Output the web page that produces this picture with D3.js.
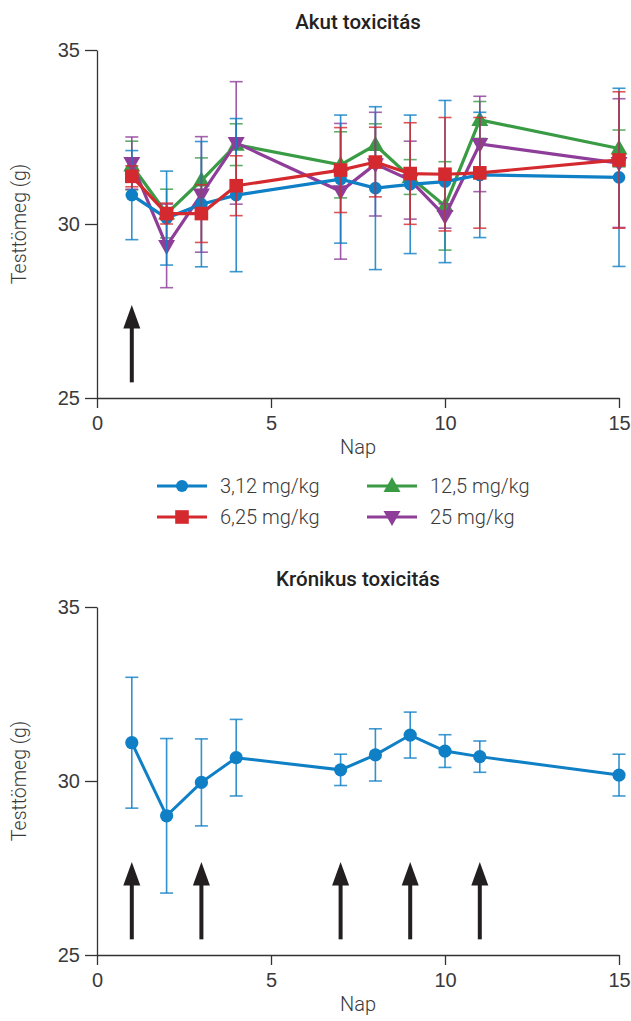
<!DOCTYPE html>
<html><head><meta charset="utf-8">
<script src="https://cdn.jsdelivr.net/npm/d3@7/dist/d3.min.js"></script>
<style>
html,body{margin:0;padding:0;background:#fff;}
svg{display:block;font-family:Roboto,"Noto Sans",sans-serif;}
</style></head><body>
<svg id="c" width="631" height="1021"></svg>
<script>
// ---- data ----
const days = [1, 2, 3, 4, 7, 8, 9, 10, 11, 15];
const xTicks = [0, 5, 10, 15];
const yTicks = [25, 30, 35];
const seriesNames = ["3,12 mg/kg", "6,25 mg/kg", "12,5 mg/kg", "25 mg/kg"];
const blueMean   = [30.83, 30.17, 30.57, 30.83, 31.29, 31.03, 31.14, 31.22, 31.41, 31.34];
const blueSd     = [1.28, 1.35, 1.80, 2.20, 1.84, 2.34, 1.99, 2.33, 1.80, 2.56];
const redMean    = [31.37, 30.30, 30.30, 31.10, 31.55, 31.78, 31.45, 31.43, 31.47, 31.84];
const redSd      = [0.30, 0.30, 0.83, 0.86, 1.22, 1.00, 1.46, 1.63, 1.59, 1.96];
const greenMean  = [31.68, 30.30, 31.25, 32.28, 31.70, 32.27, 31.35, 30.52, 32.99, 32.17];
const greenSd    = [0.70, 0.70, 0.65, 0.60, 0.95, 0.61, 0.50, 1.27, 0.53, 0.53];
const purpleMean = [31.75, 29.37, 30.85, 32.33, 30.94, 31.72, 31.26, 30.23, 32.30, 31.75];
const purpleSd   = [0.75, 1.20, 1.66, 1.76, 1.95, 1.49, 1.12, 0.35, 1.37, 1.85];
const chronicMean = [31.10, 29.00, 29.96, 30.67, 30.32, 30.75, 31.32, 30.86, 30.70, 30.17];
const chronicSd   = [1.88, 2.22, 1.25, 1.10, 0.45, 0.75, 0.66, 0.47, 0.45, 0.60];
const acuteArrows = [1];
const chronicArrows = [1, 3, 7, 9, 11];
const titles = ["Akut toxicitás", "Krónikus toxicitás"];
const yLabel = "Testtömeg (g)";
const xLabel = "Nap";

// ---- styles ----
const colors = {blue:"#0f7fc6", red:"#d42a2f", green:"#3a9b45", purple:"#8e3e99"};
const textCol = "#3a3a3a";
const svg = d3.select("#c");

const x = d3.scaleLinear().domain([0, 15]).range([97, 619]);

function panel(top, bottom, title, seriesList, arrows) {
  const y = d3.scaleLinear().domain([25, 35]).range([bottom, top]);
  const g = svg.append("g");
  // title
  g.append("text").attr("x", (x(0)+x(15))/2).attr("y", top - 21)
    .attr("text-anchor", "middle").attr("font-size", 20.5).attr("font-weight", 500)
    .attr("fill", "#222").text(title);
  // axes
  const ya = g.append("g").attr("transform", `translate(${x(0)},0)`)
    .call(d3.axisLeft(y).tickValues(yTicks).tickSize(12).tickSizeOuter(0).tickPadding(5));
  const xa = g.append("g").attr("transform", `translate(0,${bottom})`)
    .call(d3.axisBottom(x).tickValues(xTicks).tickSize(10).tickSizeOuter(0).tickPadding(12));
  [ya, xa].forEach(a => {
    a.selectAll("path,line").attr("stroke", "#333").attr("stroke-width", 1.3);
    a.selectAll("text").attr("font-size", 20).attr("font-weight", 300).attr("fill", textCol);
  });
  xa.selectAll("text").attr("dy", "0.5em");
  g.append("text").attr("transform", `translate(26,${(top+bottom)/2}) rotate(-90)`)
    .attr("text-anchor", "middle").attr("font-size", 19.5).attr("font-weight", 300)
    .attr("fill", textCol).text(yLabel);
  g.append("text").attr("x", (x(0)+x(15))/2).attr("y", bottom + 56)
    .attr("text-anchor", "middle").attr("font-size", 20).attr("font-weight", 300)
    .attr("fill", textCol).text(xLabel);
  // arrows
  arrows.forEach(d => {
    const cx = x(d);
    g.append("line").attr("x1", cx).attr("x2", cx).attr("y1", y(25.45)).attr("y2", y(27.1))
      .attr("stroke", "#231f20").attr("stroke-width", 4);
    g.append("path").attr("d", `M${cx-8.5},${y(27.0)} L${cx+8.5},${y(27.0)} L${cx},${y(27.67)} Z`)
      .attr("fill", "#231f20");
  });
  // series
  seriesList.forEach(s => {
    const sg = g.append("g");
    const pts = days.map((d, i) => ({d, m: s.mean[i], sd: s.sd[i]}));
    // error bars
    pts.forEach(p => {
      const cx = x(p.d);
      const y1 = y(p.m + p.sd), y2 = y(p.m - p.sd);
      sg.append("line").attr("x1", cx).attr("x2", cx).attr("y1", y1).attr("y2", y2)
        .attr("stroke", s.color).attr("stroke-width", 1.6).attr("opacity", 0.85);
      [y1, y2].forEach(yy => sg.append("line").attr("x1", cx-6.5).attr("x2", cx+6.5)
        .attr("y1", yy).attr("y2", yy).attr("stroke", s.color).attr("stroke-width", 1.6).attr("opacity", 0.8));
    });
    sg.append("path").datum(pts)
      .attr("d", d3.line().x(p => x(p.d)).y(p => y(p.m)))
      .attr("fill", "none").attr("stroke", s.color).attr("stroke-width", s.lw || 3.2);
    pts.forEach(p => drawMarker(sg, s.shape, x(p.d), y(p.m), s.color, s.size || 1));
  });
}

function drawMarker(g, shape, cx, cy, color, k) {
  if (shape === "circle") {
    g.append("circle").attr("cx", cx).attr("cy", cy).attr("r", 6.3*k).attr("fill", color);
  } else if (shape === "square") {
    g.append("rect").attr("x", cx-6.8).attr("y", cy-6.8).attr("width", 13.6).attr("height", 13.6).attr("fill", color);
  } else if (shape === "up") {
    g.append("path").attr("d", `M${cx},${cy-9} L${cx+8.5},${cy+6} L${cx-8.5},${cy+6} Z`).attr("fill", color);
  } else {
    g.append("path").attr("d", `M${cx},${cy+9} L${cx+8.5},${cy-6} L${cx-8.5},${cy-6} Z`).attr("fill", color);
  }
}

const acuteSeries = [
  {mean: greenMean, sd: greenSd, color: colors.green, shape: "up"},
  {mean: purpleMean, sd: purpleSd, color: colors.purple, shape: "down"},
  {mean: blueMean, sd: blueSd, color: colors.blue, shape: "circle"},
  {mean: redMean, sd: redSd, color: colors.red, shape: "square"}
];
panel(50, 398, titles[0], acuteSeries, acuteArrows);
panel(607, 955, titles[1], [{mean: chronicMean, sd: chronicSd, color: colors.blue, shape: "circle", lw: 3, size: 1.05}], chronicArrows);

// legend
const legendItems = [
  {name: seriesNames[0], color: colors.blue, shape: "circle", lx: 157, ly: 486},
  {name: seriesNames[1], color: colors.red, shape: "square", lx: 157, ly: 517},
  {name: seriesNames[2], color: colors.green, shape: "up", lx: 367, ly: 486},
  {name: seriesNames[3], color: colors.purple, shape: "down", lx: 367, ly: 517}
];
const lg = svg.append("g");
legendItems.forEach(it => {
  lg.append("line").attr("x1", it.lx).attr("x2", it.lx+50).attr("y1", it.ly).attr("y2", it.ly)
    .attr("stroke", it.color).attr("stroke-width", 3);
  drawMarker(lg, it.shape, it.lx+25, it.ly, it.color, 0.95);
  lg.append("text").attr("x", it.lx+63).attr("y", it.ly).attr("dy", "0.35em")
    .attr("font-size", 20).attr("font-weight", 300).attr("fill", textCol).text(it.name);
});
</script>
</body></html>
